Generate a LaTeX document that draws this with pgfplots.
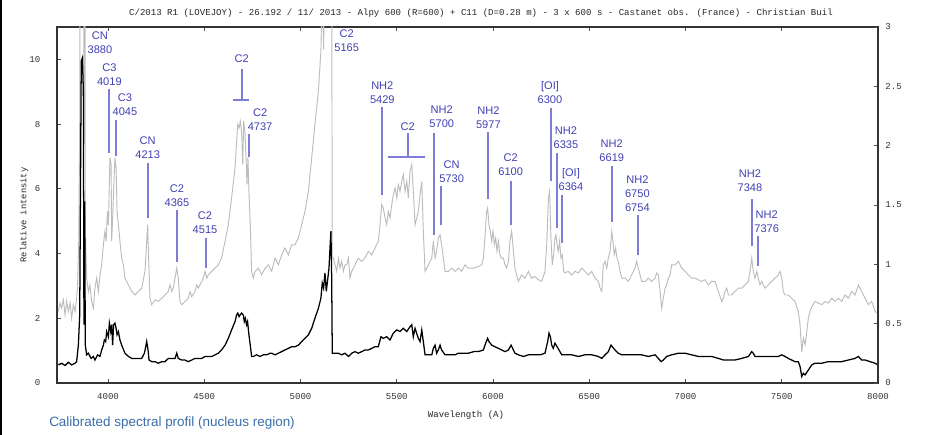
\documentclass[border=0pt]{standalone}
\usepackage{pgfplots}
\pgfplotsset{compat=1.18}
\usepackage{fontspec}
\setmainfont{Liberation Sans}
\newfontfamily\monofont{Liberation Mono}
\definecolor{lblblue}{RGB}{64,64,180}
\definecolor{lnblue}{RGB}{125,125,215}
\definecolor{capblue}{RGB}{58,110,170}
\definecolor{curvegray}{RGB}{188,188,188}
\newcommand\tickfont{\monofont\fontsize{6.8}{8}\selectfont}
\newcommand\lblf{\fontsize{8.3}{10.5}\selectfont}
% text x, text y, text, line x, line y1, line y2
\newcommand\ann[6]{%
  \node[lblblue,font=\lblf,align=center,inner sep=0pt] at (axis cs:#1,#2) {#3};
  \draw[lnblue,line width=1.5pt] (axis cs:#4,#5) -- (axis cs:#4,#6);}
\pgfplotstableread{
x y
3742 0.56
3759 0.61
3777 0.54
3794 0.64
3811 0.56
3829 0.61
3837 0.66
3846 1.17
3853 2.10
3858 6.96
3861 9.95
3867 10.05
3872 9.02
3875 1.80
3879 5.61
3882 1.17
3889 0.87
3898 0.92
3912 0.76
3924 0.82
3932 0.71
3946 0.87
3958 0.82
3967 1.02
3976 1.17
3981 1.33
3988 1.28
3993 1.59
4002 1.43
4007 1.85
4014 1.59
4019 1.80
4024 1.17
4029 1.80
4036 1.85
4042 1.69
4047 1.49
4054 1.59
4062 1.33
4071 1.17
4088 0.92
4106 0.82
4123 0.76
4140 0.76
4158 0.76
4175 0.76
4189 0.92
4196 1.12
4201 1.28
4208 1.02
4213 0.71
4227 0.66
4244 0.66
4261 0.61
4279 0.66
4296 0.66
4313 0.76
4331 0.76
4348 0.76
4357 0.92
4365 0.76
4383 0.71
4400 0.71
4417 0.66
4435 0.71
4452 0.76
4469 0.76
4487 0.76
4504 0.82
4521 0.82
4539 0.82
4556 0.87
4573 0.92
4590 1.02
4608 1.17
4625 1.38
4642 1.64
4660 1.90
4668 2.10
4674 2.16
4681 2.05
4686 2.10
4694 2.16
4703 2.10
4708 1.90
4713 2.00
4720 1.80
4725 1.90
4732 1.49
4739 1.17
4746 0.82
4755 0.82
4772 0.87
4790 0.82
4807 0.87
4824 0.87
4842 0.92
4850 0.92
4868 0.87
4885 0.92
4902 0.97
4919 1.02
4937 1.07
4954 1.12
4971 1.12
4989 1.17
5006 1.28
5023 1.38
5041 1.49
5058 1.69
5075 2.00
5093 2.31
5106 2.62
5113 3.09
5120 2.93
5127 3.40
5134 2.83
5141 3.19
5148 3.55
5155 4.38
5158 4.69
5162 3.24
5165 0.92
5179 0.92
5197 0.92
5214 0.87
5231 0.92
5249 0.82
5266 0.92
5283 0.97
5300 0.92
5318 0.97
5335 1.02
5352 1.02
5370 1.07
5387 1.12
5404 1.12
5418 1.43
5430 1.38
5448 1.43
5465 1.33
5482 1.54
5500 1.64
5517 1.59
5534 1.69
5552 1.59
5569 1.74
5578 1.80
5586 1.43
5595 1.69
5612 1.38
5621 1.28
5630 1.64
5638 1.28
5647 0.87
5664 0.87
5682 0.87
5690 1.07
5699 1.17
5707 0.92
5716 1.02
5725 1.17
5733 1.02
5751 0.87
5768 0.87
5785 0.87
5803 0.87
5820 0.92
5837 0.92
5855 0.92
5872 0.92
5901 0.97
5924 0.97
5950 1.02
5962 1.23
5972 1.38
5979 1.28
5993 1.17
6010 1.12
6028 1.07
6045 1.02
6062 0.97
6080 1.02
6094 1.17
6106 1.02
6114 0.92
6132 0.87
6158 0.82
6184 0.87
6218 0.87
6244 0.87
6270 0.92
6284 1.28
6291 1.54
6298 1.43
6305 1.17
6313 1.07
6322 1.23
6333 1.12
6343 1.02
6357 0.87
6374 0.87
6409 0.87
6443 0.82
6478 0.87
6513 0.87
6547 0.82
6565 0.76
6582 0.87
6599 0.97
6613 1.17
6620 1.12
6634 1.02
6651 0.92
6669 0.87
6703 0.87
6738 0.87
6772 0.87
6807 0.82
6842 0.87
6859 0.76
6873 0.66
6885 0.71
6902 0.82
6928 0.87
6963 0.92
6998 0.92
7032 0.87
7067 0.82
7101 0.82
7136 0.82
7171 0.76
7197 0.71
7223 0.71
7257 0.71
7292 0.76
7327 0.82
7344 0.97
7352 0.92
7361 0.82
7378 0.82
7413 0.82
7448 0.82
7482 0.82
7500 0.87
7517 0.82
7534 0.76
7569 0.66
7586 0.66
7595 0.51
7604 0.20
7612 0.30
7621 0.25
7638 0.40
7656 0.56
7673 0.61
7708 0.61
7742 0.66
7777 0.66
7811 0.66
7846 0.71
7881 0.76
7898 0.82
7915 0.71
7933 0.71
7959 0.66
7985 0.61
7998 0.56
}\blackspec
\pgfplotstableread{
x y
3742 2.21
3751 2.47
3759 2.31
3768 2.57
3777 2.10
3785 2.52
3794 2.21
3803 2.47
3811 2.00
3820 2.42
3829 2.21
3837 2.62
3842 3.03
3848 4.38
3853 7.99
3858 28
3862 40
3867 41
3872 37
3875 7.4
3879 23
3882 4.8
3889 3.24
3898 2.83
3906 3.03
3915 2.52
3924 2.31
3932 2.93
3941 3.24
3950 2.83
3958 3.34
3967 3.65
3976 4.27
3984 4.69
3990 4.38
3997 5.30
4002 4.89
4010 6.96
4016 6.75
4019 4.38
4024 5.10
4029 5.92
4036 6.96
4042 6.65
4047 5.30
4054 4.89
4062 4.38
4071 3.86
4080 3.65
4088 3.24
4106 3.03
4123 2.83
4140 2.72
4158 2.83
4175 2.93
4192 3.45
4201 4.38
4206 4.89
4211 3.86
4218 2.62
4227 2.42
4244 2.57
4261 2.52
4279 2.62
4296 2.72
4313 2.83
4322 3.03
4331 2.83
4339 2.93
4348 3.24
4357 3.55
4365 3.24
4374 2.52
4383 2.42
4400 2.52
4417 2.62
4426 2.83
4435 2.67
4452 2.83
4461 3.03
4469 2.93
4487 3.14
4495 3.24
4504 3.45
4513 3.24
4521 3.34
4539 3.45
4556 3.55
4573 3.65
4590 3.86
4608 4.38
4625 4.89
4642 5.72
4660 6.65
4668 7.47
4674 7.99
4681 7.88
4687 8.09
4694 7.78
4700 6.75
4705 8.09
4712 7.68
4717 6.96
4722 6.13
4727 6.96
4732 5.92
4739 4.89
4746 3.45
4755 3.24
4764 3.45
4781 3.55
4798 3.34
4816 3.55
4833 3.65
4850 3.45
4868 3.86
4885 3.65
4902 3.96
4919 4.17
4937 3.96
4954 4.27
4971 4.27
4989 4.48
5006 4.89
5023 5.30
5041 5.92
5058 6.96
5075 7.99
5093 9.02
5106 10.26
5113 12.4
5120 10.3
5127 13.6
5134 11.3
5141 12.8
5148 14.2
5155 17.5
5158 18.8
5162 13.0
5165 3.90
5171 3.86
5179 3.65
5188 3.45
5197 3.86
5205 3.55
5214 3.76
5223 3.45
5231 3.65
5240 3.65
5249 3.86
5257 3.24
5266 3.45
5283 3.65
5300 3.86
5318 3.76
5335 3.86
5352 4.07
5370 3.96
5387 4.17
5404 4.38
5413 4.89
5422 5.51
5430 5.41
5439 5.10
5448 4.89
5456 5.30
5465 5.10
5474 5.51
5482 5.82
5491 6.03
5500 5.72
5508 6.13
5517 5.92
5526 6.23
5534 6.44
5543 5.92
5552 6.23
5560 5.72
5569 6.54
5578 6.75
5586 5.92
5595 4.89
5604 5.10
5612 5.30
5621 5.82
5630 6.23
5638 4.69
5647 3.45
5664 3.65
5682 3.86
5690 4.38
5699 3.86
5707 4.07
5716 4.48
5725 4.58
5733 4.27
5751 3.45
5768 3.45
5785 3.55
5803 3.45
5820 3.55
5837 3.45
5855 3.65
5872 3.55
5901 3.55
5924 3.60
5941 3.65
5950 3.86
5958 4.48
5967 5.30
5972 5.41
5979 4.89
5986 4.69
5993 4.38
6000 4.69
6007 4.27
6014 4.48
6021 4.07
6028 4.38
6036 3.96
6045 3.86
6054 3.86
6062 3.65
6071 3.55
6080 3.76
6088 4.38
6097 4.69
6106 4.07
6114 3.55
6123 3.34
6132 3.14
6140 3.24
6149 3.34
6166 3.24
6184 3.45
6192 3.34
6201 3.24
6218 3.29
6236 3.19
6253 3.14
6270 3.45
6279 4.27
6288 5.72
6294 5.92
6301 4.48
6308 3.65
6315 3.96
6322 4.48
6327 4.58
6333 4.27
6339 4.07
6346 4.38
6353 3.86
6360 3.96
6367 3.45
6374 3.40
6391 3.45
6409 3.34
6426 3.45
6443 3.40
6461 3.55
6478 3.45
6495 3.34
6513 3.45
6530 3.24
6547 3.14
6556 2.93
6565 2.83
6573 3.65
6582 3.76
6591 3.55
6599 3.86
6608 4.07
6617 4.69
6623 4.38
6630 3.96
6637 4.17
6644 3.86
6651 3.76
6660 3.45
6669 3.24
6686 3.24
6703 3.14
6720 3.34
6738 3.55
6746 3.76
6755 3.55
6764 3.34
6772 3.14
6790 3.14
6807 3.24
6824 3.14
6842 3.24
6850 3.40
6859 3.34
6868 2.83
6876 2.31
6885 2.62
6894 2.93
6902 3.03
6911 3.24
6920 3.34
6928 3.65
6946 3.65
6963 3.76
6980 3.55
6998 3.45
7015 3.34
7032 3.24
7049 3.24
7067 3.19
7084 3.14
7101 3.19
7119 3.03
7136 3.14
7153 3.14
7171 2.83
7188 2.52
7197 2.62
7205 2.83
7214 2.93
7223 2.72
7240 2.72
7257 2.83
7275 2.93
7292 2.93
7309 3.03
7327 3.14
7335 3.45
7344 3.86
7352 3.45
7361 3.24
7370 3.45
7378 3.24
7387 3.03
7396 3.14
7413 2.93
7430 3.03
7448 3.14
7465 3.24
7482 3.34
7491 3.45
7500 3.24
7508 2.83
7517 2.72
7534 2.72
7552 2.62
7569 2.52
7586 2.21
7595 1.80
7604 0.95
7612 1.38
7621 1.18
7630 1.59
7638 2.00
7647 2.21
7656 2.36
7673 2.52
7690 2.47
7708 2.42
7725 2.52
7742 2.47
7760 2.62
7777 2.52
7794 2.62
7811 2.52
7829 2.72
7846 2.62
7863 2.83
7881 2.72
7898 3.03
7907 2.93
7915 2.83
7933 2.62
7950 2.42
7967 2.52
7985 2.21
7998 2.16
}\grayspec
\begin{document}
\begin{tikzpicture}
\path[use as bounding box] (0,0) rectangle (694.5pt,326.25pt);
\begin{axis}[
  at={(42.75pt,39pt)}, anchor=south west,
  width=615.75pt, height=267pt, scale only axis,
  xmin=3735, xmax=8000, ymin=0, ymax=11,
  xtick={4000,4500,...,8000}, ytick={0,2,...,10},
  ytick pos=left,
  tick align=inside, major tick length=3pt,
  axis line style={black!80, line width=0.8pt},
  tick style={black!70, line width=0.6pt},
  tick label style={font=\tickfont, text=black!80},
  /pgf/number format/assume math mode=true,
  /pgf/number format/1000 sep={},
  scaled ticks=false,
  xticklabel style={yshift=-4pt},
  yticklabel style={xshift=-9pt},
]
\addplot[curvegray, line width=0.7pt, mark=none] table[x=x,y=y] {\grayspec};
\addplot[black, line width=0.95pt, mark=none] table[x=x,y=y] {\blackspec};
\node[lblblue,font=\lblf,align=center,inner sep=0pt] at (axis cs:3958,10.52) {CN\\3880};
\ann{4007}{9.53}{C3\\4019}{4007}{7.12}{9.07}
\ann{4088}{8.59}{C3\\4045}{4042}{7.00}{8.14}
\ann{4206}{7.28}{CN\\4213}{4209}{5.11}{6.81}
\ann{4358}{5.80}{C2\\4365}{4358}{3.75}{5.36}
\ann{4504}{4.94}{C2\\4515}{4508}{3.56}{4.49}
\node[lblblue,font=\lblf,inner sep=0pt] at (axis cs:4695,10.02) {C2};
\draw[lnblue,line width=1.5pt] (axis cs:4695,9.69) -- (axis cs:4695,8.73);
\draw[lnblue,line width=1.5pt] (axis cs:4648,8.73) -- (axis cs:4732,8.73);
\ann{4790}{8.14}{C2\\4737}{4732}{6.98}{7.68}
\node[lblblue,font=\lblf,align=center,inner sep=0pt] at (axis cs:5240,10.57) {C2\\5165};
\ann{5425}{8.96}{NH2\\5429}{5425}{5.80}{8.52}
\node[lblblue,font=\lblf,inner sep=0pt] at (axis cs:5557,7.92) {C2};
\draw[lnblue,line width=1.5pt] (axis cs:5557,7.74) -- (axis cs:5557,6.98);
\draw[lnblue,line width=1.5pt] (axis cs:5456,6.98) -- (axis cs:5647,6.98);
\ann{5734}{8.24}{NH2\\5700}{5695}{4.58}{7.74}
\ann{5785}{6.53}{CN\\5730}{5730}{4.89}{6.08}
\ann{5976}{8.21}{NH2\\5977}{5976}{5.70}{7.76}
\ann{6092}{6.73}{C2\\6100}{6095}{4.89}{6.23}
\ann{6296}{8.96}{[OI]\\6300}{6301}{6.23}{8.50}
\ann{6379}{7.59}{NH2\\6335}{6334}{4.79}{7.11}
\ann{6405}{6.29}{[OI]\\6364}{6358}{4.33}{5.82}
\ann{6617}{7.17}{NH2\\6619}{6618}{4.98}{6.70}
\ann{6750}{5.85}{NH2\\6750\\6754}{6752}{3.94}{5.20}
\ann{7335}{6.24}{NH2\\7348}{7344}{4.22}{5.70}
\ann{7422}{4.99}{NH2\\7376}{7378}{3.63}{4.53}
\end{axis}
\begin{axis}[
  at={(42.75pt,39pt)}, anchor=south west,
  width=615.75pt, height=267pt, scale only axis,
  xmin=3735, xmax=8000, ymin=0, ymax=3,
  axis x line=none, axis y line*=right,
  ytick={0,0.5,...,3}, ytick pos=right,
  tick align=inside, major tick length=3pt,
  axis line style={black!80, line width=0.8pt, -},
  tick style={black!70, line width=0.6pt},
  tick label style={font=\tickfont, text=black!80},
  /pgf/number format/assume math mode=true,
  yticklabel style={xshift=2pt},
]
\addplot[draw=none] coordinates {(4000,0)};
\end{axis}
\draw[black, line width=1.5pt] (0.75pt,0) -- (0.75pt,326.25pt);
\node[font=\tickfont, text=black!85] at (360.75pt,316.5pt) {C/2013 R1 (LOVEJOY) - 26.192 / 11/ 2013 - Alpy 600 (R=600) + C11 (D=0.28 m) - 3 x 600 s - Castanet obs. (France) - Christian Buil};
\node[font=\tickfont, text=black!85] at (349.5pt,15pt) {Wavelength (A)};
\node[font=\monofont\fontsize{6.6}{7.5}\selectfont, text=black!85, rotate=90] at (18pt,165pt) {Relative intensity};
\node[font=\fontsize{10.1}{12}\selectfont, text=capblue, anchor=west, inner sep=0pt] at (36.75pt,9pt) {Calibrated spectral profil (nucleus region)};
\end{tikzpicture}
\end{document}
